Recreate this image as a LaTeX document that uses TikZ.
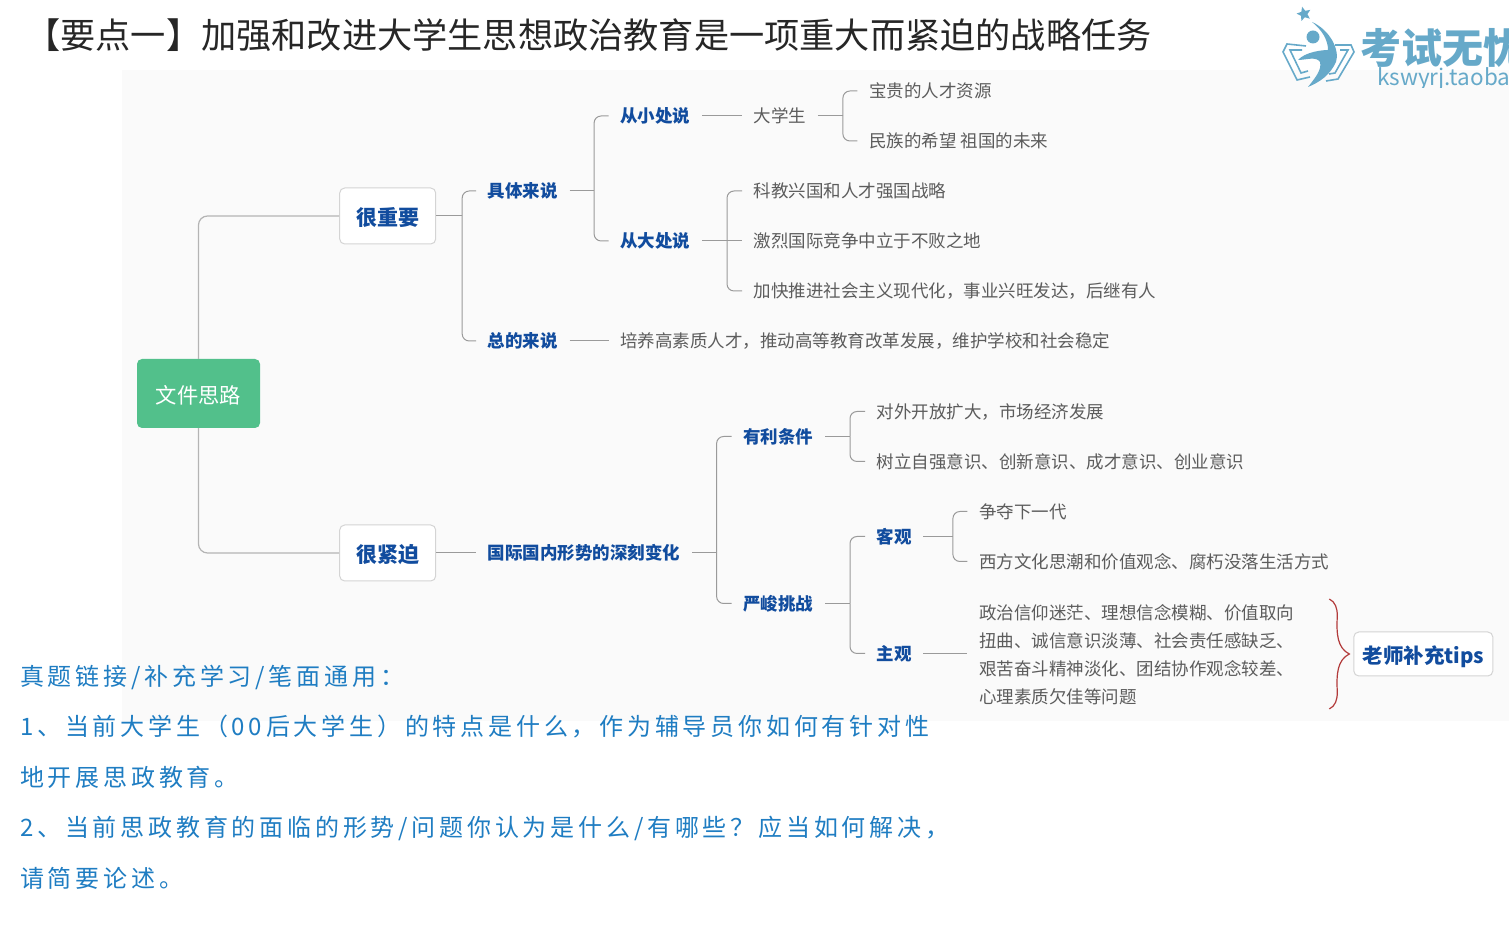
\documentclass[tikz,border=0pt]{standalone}
\usepackage{fontspec}
\setmainfont{Noto Sans CJK SC}
\newfontfamily\questionfont[LetterSpace=15.8]{Noto Sans CJK SC}
\usetikzlibrary{positioning,calc,shapes.geometric}
\definecolor{Paper}{HTML}{FAFAFA}
\definecolor{RootFill}{HTML}{52C08B}
\definecolor{BoxLine}{HTML}{D4D4D4}
\definecolor{Trunk}{HTML}{B4B4B4}
\definecolor{Branch}{HTML}{9A9A9A}
\definecolor{Heading}{HTML}{114C9E}
\definecolor{Body}{HTML}{5C5C5C}
\definecolor{Question}{HTML}{1F7DC2}
\definecolor{Logo}{HTML}{66A9C9}
\definecolor{Curl}{HTML}{B23A3A}
\tikzset{
	mainbox/.style={draw=BoxLine,fill=white,line width=1pt,rounded corners=5pt,minimum width=96pt,minimum height=56pt,inner sep=0pt,text height=23pt,text depth=4pt,text=Heading,font=\fontsize{21}{25}\selectfont\bfseries},
	headnode/.style={inner xsep=11.5pt,inner ysep=0pt,text height=18pt,text depth=4.5pt,text=Heading,font=\fontsize{17.5}{21}\selectfont\bfseries},
	leafnode/.style={inner xsep=11.5pt,inner ysep=0pt,text height=18pt,text depth=4.5pt,text=Body,font=\fontsize{17.5}{21}\selectfont},
	trunkline/.style={draw=Trunk,line width=1.2pt,rounded corners=9pt},
	branchline/.style={draw=Branch,line width=1pt,rounded corners=7pt}
}
\begin{document}
\begin{tikzpicture}[x=1pt,y=1pt]
	\useasboundingbox (0,0) rectangle (1509,928);
	\fill[Paper] (122,207) rectangle (1509,858);

	% Title
	\node[anchor=west,inner sep=0pt,text=black!85,font=\fontsize{35.2}{42}\selectfont] (title) at (25,893)
	{【要点一】加强和改进大学生思想政治教育是一项重大而紧迫的战略任务};

	% Logo
	\begin{scope}
		\clip (1270,840) rectangle (1509,928);
		\node[star,star points=5,star point ratio=2.2,fill=Logo,inner sep=0pt,minimum size=15pt,rotate=15] (logostar) at (1304,914) {};
		\begin{scope}[shift={(0,928)},yscale=-1]
			\fill[Logo] (1312,22) .. controls (1330,30) and (1340,50) .. (1336,62)
			.. controls (1330,75) and (1320,82) .. (1308,87)
			.. controls (1315,78) and (1322,70) .. (1320,62)
			.. controls (1316,56) and (1306,60) .. (1298,60)
			.. controls (1305,52) and (1322,50) .. (1328,50)
			.. controls (1328,40) and (1322,30) .. (1312,22);
			\fill[Logo] (1313,37) circle (6.5);
			\draw[Logo,line width=1.6pt] (1306,46) -- (1287,44) -- (1283,52) -- (1297,80) -- (1310,77);
			\draw[Logo,line width=1.6pt] (1302,50) -- (1290,50) -- (1301,73) -- (1308,71);
			\draw[Logo,line width=1.6pt] (1335,45) -- (1351,45) -- (1354,52) -- (1338,79) -- (1326,81);
			\draw[Logo,line width=1.6pt] (1340,50) -- (1348,50) -- (1335,73) -- (1329,74);
		\end{scope}
		\node[anchor=west,inner sep=0pt,text=Logo,text height=13pt,text depth=3pt,font=\fontsize{41}{45}\selectfont\bfseries] (logoname) at (1360,869) {考试无忧};
		\node[anchor=west,inner sep=0pt,text=Logo,text height=12pt,text depth=4pt,font=\fontsize{22.5}{26}\selectfont] (logoshop) at (1377,846) {kswyrj.taobao.com};
	\end{scope}

	% Root
	\node[fill=RootFill,rounded corners=5pt,minimum width=123pt,minimum height=69pt,inner sep=0pt,text height=25pt,text depth=4pt,text=white,font=\fontsize{21.3}{25}\selectfont] (root) at (198.5,534.5) {文件思路};

	% Two main boxes
	\node[mainbox,right=79pt of root.east,yshift=177.5pt] (important) {很重要};
	\node[mainbox,right=79pt of root.east,yshift=-159.5pt] (urgent) {很紧迫};

	% Upper half
	\node[headnode,right=40pt of important.east,yshift=25pt] (concrete) {具体来说};
	\node[headnode,right=40pt of important.east,yshift=-125pt] (overall) {总的来说};
	\node[leafnode,right=39pt of overall.east] (overview) {培养高素质人才，推动高等教育改革发展，维护学校和社会稳定};
	\node[headnode,right=39pt of concrete.east,yshift=75pt] (small) {从小处说};
	\node[headnode,right=39pt of concrete.east,yshift=-50pt] (large) {从大处说};
	\node[leafnode,right=40pt of small.east] (student) {大学生};
	\node[leafnode,right=39.5pt of student.east,yshift=25pt] (treasure) {宝贵的人才资源};
	\node[leafnode,right=39.5pt of student.east,yshift=-25pt] (hope) {民族的希望 祖国的未来};
	\node[leafnode,right=40pt of large.east,yshift=50pt] (strategy) {科教兴国和人才强国战略};
	\node[leafnode,right=40pt of large.east] (compete) {激烈国际竞争中立于不败之地};
	\node[leafnode,right=40pt of large.east,yshift=-50pt] (modernize) {加快推进社会主义现代化，事业兴旺发达，后继有人};

	% Lower half
	\node[headnode,right=40pt of urgent.east] (change) {国际国内形势的深刻变化};
	\node[headnode,right=39.5pt of change.east,yshift=116.5pt] (favor) {有利条件};
	\node[headnode,right=39.5pt of change.east,yshift=-50.5pt] (challenge) {严峻挑战};
	\node[leafnode,right=40pt of favor.east,yshift=25pt] (opening) {对外开放扩大，市场经济发展};
	\node[leafnode,right=40pt of favor.east,yshift=-25pt] (selfpower) {树立自强意识、创新意识、成才意识、创业意识};
	\node[headnode,right=40pt of challenge.east,yshift=67pt] (objective) {客观};
	\node[headnode,right=40pt of challenge.east,yshift=-50pt] (subjective) {主观};
	\node[leafnode,right=44pt of objective.east,yshift=25pt] (nextgen) {争夺下一代};
	\node[leafnode,right=44pt of objective.east,yshift=-25pt] (western) {西方文化思潮和价值观念、腐朽没落生活方式};
	\node[inner xsep=11.5pt,inner ysep=0pt,align=left,text=Body,font=\fontsize{17.5}{28}\selectfont,right=44pt of subjective.east,yshift=-1pt] (faults)
	{政治信仰迷茫、理想信念模糊、价值取向\\
		扭曲、诚信意识淡薄、社会责任感缺乏、\\
		艰苦奋斗精神淡化、团结协作观念较差、\\
		心理素质欠佳等问题};
	\node[draw=BoxLine,fill=white,line width=1pt,rounded corners=5pt,minimum width=139pt,minimum height=44pt,inner sep=0pt,text height=23pt,text depth=4pt,text=Heading,font=\fontsize{20.5}{25}\selectfont\bfseries,right=47.5pt of faults.east,yshift=0.5pt] (tips) {老师补充tips};

	% Questions
	\node[anchor=west,inner sep=0pt,align=left,text=Question,font=\questionfont\fontsize{24}{50.4}\selectfont] (questions) at (20,151)
	{真题链接/补充学习/笔面通用：\\
		1、当前大学生（00后大学生）的特点是什么，作为辅导员你如何有针对性\\
		地开展思政教育。\\
		2、当前思政教育的面临的形势/问题你认为是什么/有哪些？应当如何解决，\\
		请简要论述。};

	% Forks
	\coordinate[right=26pt of important.east] (importantfork);
	\coordinate[right=24.5pt of concrete.east] (concretefork);
	\coordinate[right=25pt of student.east] (studentfork);
	\coordinate[right=25pt of large.east] (largefork);
	\coordinate[right=24.5pt of change.east] (changefork);
	\coordinate[right=25pt of favor.east] (favorfork);
	\coordinate[right=25pt of challenge.east] (challengefork);
	\coordinate[right=29.5pt of objective.east] (objectivefork);
	\coordinate[left=4pt of tips.west] (curltip);

	% Connectors
	\draw[trunkline] (root.north) |- (important.west);
	\draw[trunkline] (root.south) |- (urgent.west);
	\draw[branchline] (important.east) -- (importantfork);
	\draw[branchline] (importantfork) |- (concrete.west);
	\draw[branchline] (importantfork) |- (overall.west);
	\draw[branchline] (overall.east) -- (overview.west);
	\draw[branchline] (concrete.east) -- (concretefork);
	\draw[branchline] (concretefork) |- (small.west);
	\draw[branchline] (concretefork) |- (large.west);
	\draw[branchline] (small.east) -- (student.west);
	\draw[branchline] (student.east) -- (studentfork);
	\draw[branchline] (studentfork) |- (treasure.west);
	\draw[branchline] (studentfork) |- (hope.west);
	\draw[branchline] (large.east) -- (compete.west);
	\draw[branchline] (largefork) |- (strategy.west);
	\draw[branchline] (largefork) |- (modernize.west);
	\draw[branchline] (urgent.east) -- (change.west);
	\draw[branchline] (change.east) -- (changefork);
	\draw[branchline] (changefork) |- (favor.west);
	\draw[branchline] (changefork) |- (challenge.west);
	\draw[branchline] (favor.east) -- (favorfork);
	\draw[branchline] (favorfork) |- (opening.west);
	\draw[branchline] (favorfork) |- (selfpower.west);
	\draw[branchline] (challenge.east) -- (challengefork);
	\draw[branchline] (challengefork) |- (objective.west);
	\draw[branchline] (challengefork) |- (subjective.west);
	\draw[branchline] (objective.east) -- (objectivefork);
	\draw[branchline] (objectivefork) |- (nextgen.west);
	\draw[branchline] (objectivefork) |- (western.west);
	\draw[branchline] (subjective.east) -- (subjective.east -| faults.west);

	% Curly mark
	\draw[Curl,line width=1.2pt] ($(curltip)+(-20,55)$) .. controls ($(curltip)+(-14,52)$) and ($(curltip)+(-12,46)$) .. ($(curltip)+(-12,38)$)
	.. controls ($(curltip)+(-13,20)$) and ($(curltip)+(-12,6)$) .. (curltip)
	.. controls ($(curltip)+(-12,-6)$) and ($(curltip)+(-13,-20)$) .. ($(curltip)+(-12,-38)$)
	.. controls ($(curltip)+(-12,-46)$) and ($(curltip)+(-14,-52)$) .. ($(curltip)+(-20,-55)$);
\end{tikzpicture}
\end{document}
